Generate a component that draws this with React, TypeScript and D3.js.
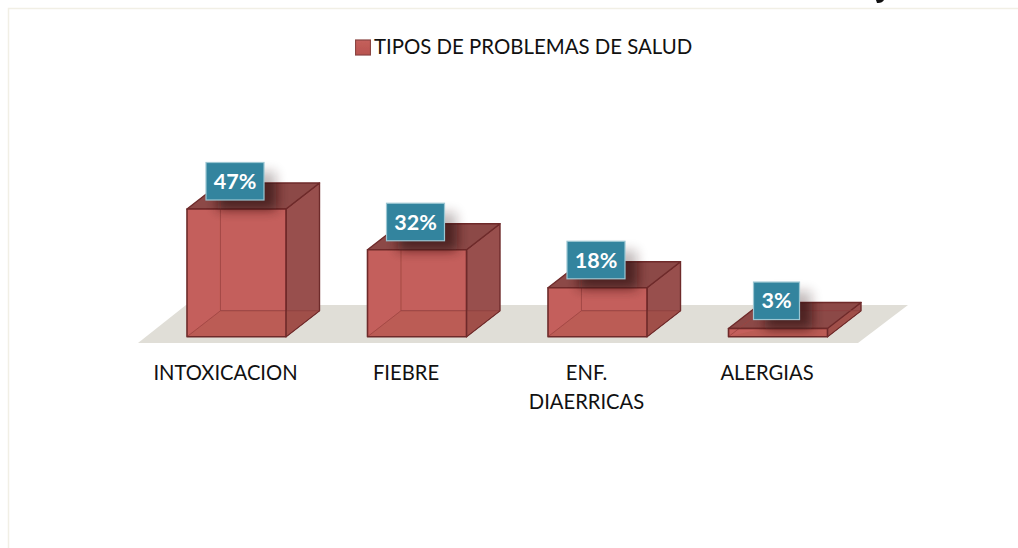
import React from "react";
import * as d3 from "d3";

const categories = ["INTOXICACION", "FIEBRE", "ENF. DIAERRICAS", "ALERGIAS"];
const categoryLines = [["INTOXICACION"], ["FIEBRE"], ["ENF.", "DIAERRICAS"], ["ALERGIAS"]];
const values = [47, 32, 18, 3];
const seriesName = "TIPOS DE PROBLEMAS DE SALUD";

const width = 1018;
const height = 548;
const baseY = 336.7;
const dx = 33.5;
const dy = -26;
const font = "Lato, Carlito, sans-serif";

const x = d3.scaleBand<string>()
    .domain(categories)
    .range([146.25, 868.25])
    .paddingInner(0.4515)
    .paddingOuter(0.22575);

const y = d3.scaleLinear()
    .domain([0, 47])
    .range([baseY, 209]);

const line = d3.line();
const poly = (pts: [number, number][]) => line(pts) + "Z";

// outline of the whole box, used to keep the label shadow strong only on the bar
const boxOutline = (x0: number, x1: number, top: number) =>
    poly([[x0, baseY], [x0, top], [x0 + dx, top + dy], [x1 + dx, top + dy], [x1 + dx, baseY + dy], [x1, baseY]]);

function Bar({ cat, value }: { cat: string; value: number }) {
    const x0 = x(cat) as number;
    const x1 = x0 + x.bandwidth();
    const top = y(value);
    const edge = "#6e2a2a";
    return (
        <g strokeLinejoin="round">
            <path d={poly([[x1, top], [x1 + dx, top + dy], [x1 + dx, baseY + dy], [x1, baseY]])} fill="#98504e" stroke={edge} strokeWidth={1.4} />
            <path d={poly([[x1, baseY], [x1 + dx, baseY + dy], [x1, baseY + dy]])} fill="#a04f4a" />
            <path d={poly([[x0, top], [x1, top], [x1 + dx, top + dy], [x0 + dx, top + dy]])} fill="#8c4846" stroke={edge} strokeWidth={1.4} />
            <path d={poly([[x0, top], [x1, top], [x1, baseY], [x0, baseY]])} fill="#c45f5b" />
            {/* inside floor and edges seen through the front face */}
            <path d={poly([[x0, baseY], [x1, baseY], [x1, Math.max(baseY + dy, top)], [x0 + dx, Math.max(baseY + dy, top)]])} fill="#bb5b54" />
            <path d={line([[x0, baseY], [x0 + dx, baseY + dy], [x0 + dx, top + dy]]) as string} fill="none" stroke="#9c4341" strokeOpacity={0.8} strokeWidth={1} />
            <path d={line([[x0 + dx, baseY + dy], [x1 + dx, baseY + dy]]) as string} fill="none" stroke="#8f3f3c" strokeOpacity={0.8} strokeWidth={1} />
            <path d={line([[x1, baseY], [x1 + dx, baseY + dy]]) as string} fill="none" stroke={edge} strokeWidth={1} />
            <path d={poly([[x0, top], [x1, top], [x1, baseY], [x0, baseY]])} fill="none" stroke={edge} strokeWidth={1.6} />
        </g>
    );
}

function Label({ cat, value, index }: { cat: string; value: number; index: number }) {
    const x0 = x(cat) as number;
    const cx = x0 + x.bandwidth() / 2 - 1.5;
    const barTop = y(value);
    const top = barTop - 9;
    const w = value < 10 ? 46 : 58;
    const h = 37.5;
    const shadow = (opacity: number, clip?: string) => (
        <g clipPath={clip}>
            <rect x={cx - w / 2 + 12} y={top - h + 9} width={w} height={h} fill="#2a0f0f" opacity={opacity} filter="url(#blur)" />
        </g>
    );
    return (
        <g>
            <clipPath id={`box${index}`}>
                <path d={boxOutline(x0, x0 + x.bandwidth(), barTop)} />
            </clipPath>
            {shadow(0.28)}
            {shadow(0.5, `url(#box${index})`)}
            <rect x={cx - w / 2} y={top - h} width={w} height={h} fill="#33849e" stroke="#9cc6d2" strokeWidth={1.2} />
            <text x={cx} y={top - h / 2 + 7.5} textAnchor="middle" fontFamily={font} fontWeight={700} fontSize={21.5} fill="#ffffff">
                {value}%
            </text>
        </g>
    );
}

export default function App() {
    return (
        <svg width={width} height={height} style={{ position: "absolute", left: 0, top: 0 }}>
            <defs>
                <filter id="blur" x="-50%" y="-50%" width="200%" height="200%">
                    <feGaussianBlur stdDeviation={6} />
                </filter>
                <filter id="soft" x="-2%" y="-2%" width="104%" height="104%">
                    <feGaussianBlur stdDeviation={0.45} />
                </filter>
                <linearGradient id="swatch" x1="0" x2="0" y1="0" y2="1">
                    <stop offset="0" stopColor="#c5605c" />
                    <stop offset="1" stopColor="#b8534f" />
                </linearGradient>
            </defs>
            <rect width={width} height={height} fill="#ffffff" />

            {/* frame */}
            <path d={line([[8.5, height], [8.5, 8.5], [width, 8.5]]) as string} fill="none" stroke="#f1efe5" strokeWidth={1.5} />

            {/* clipped title above the frame */}
            <path d="M876 0 L884 0 Q882 3.5 877 3 Z" fill="#111111" />

            {/* legend */}
            <rect x={355.5} y={40} width={15} height={15} fill="url(#swatch)" stroke="#8a4543" strokeWidth={1.2} filter="url(#soft)" />
            <text x={374} y={54} fontFamily={font} fontSize={20.4} fill="#111111">{seriesName}</text>

            {/* floor */}
            <path d={poly([[138, 343], [186, 305], [908, 305], [858, 343]])} fill="#e0ded7" />

            <g filter="url(#soft)">
                {categories.map((c, i) => <Bar key={c} cat={c} value={values[i]} />)}
            </g>
            {categories.map((c, i) => <Label key={c} cat={c} value={values[i]} index={i} />)}

            {categories.map((c, i) => (
                <text key={c} textAnchor="middle" fontFamily={font} fontSize={20.2} fill="#111111">
                    {categoryLines[i].map((t, j) => (
                        <tspan key={t} x={(x(c) as number) + x.bandwidth() / 2 - 11} y={380 + j * 29}>{t}</tspan>
                    ))}
                </text>
            ))}
        </svg>
    );
}
